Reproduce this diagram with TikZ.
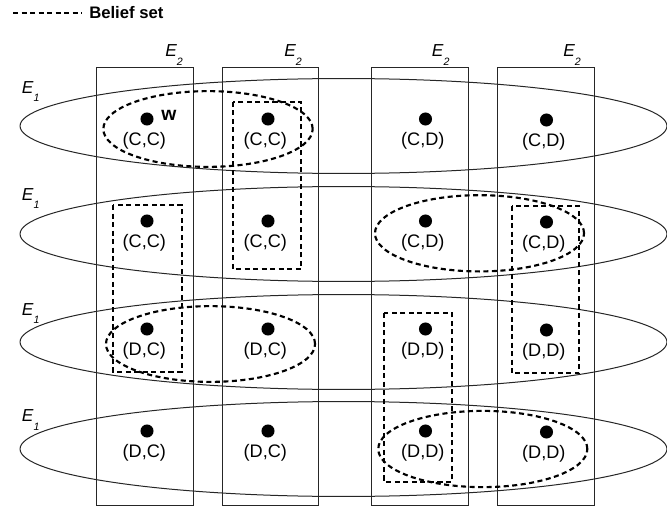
\documentclass[tikz,border=0pt]{standalone}
\usepackage{fontspec}
\setmainfont{Liberation Sans}
\usepackage{tikz}
\usetikzlibrary{positioning}
\tikzstyle{event} = [draw=black!85, line width=0.75pt]
\tikzstyle{belief} = [draw=black, line width=1.6pt, dash pattern=on 3.8pt off 2.6pt]
\tikzstyle{state} = [circle, fill=black, inner sep=0pt, minimum size=9.8pt]
\tikzstyle{outcome} = [font=\fontsize{13.6}{16}\selectfont, inner sep=0pt]
\tikzstyle{evlabel} = [font=\fontsize{13}{15}\selectfont\itshape, inner sep=0pt, anchor=base west]
\newcommand{\evsub}[1]{\raisebox{-0.5em}{\fontsize{8}{9}\selectfont #1}}

\begin{document}
\begin{tikzpicture}[x=0.75pt, y=-0.75pt, node distance=16.5pt]
\useasboundingbox (0,0) rectangle (667,506);

% Legend
\coordinate (legstart) at (13,13);
\node (legend) [anchor=west, inner sep=0pt, font=\bfseries\fontsize{12.5}{15}\selectfont] at (89,13) {Belief set};
\draw[belief] (legstart) -- ([xshift=-5pt]legend.west);

% E2 partition
\draw[event] (96.7,67.5) rectangle (193.3,505);
\draw[event] (222.3,67.5) rectangle (318.7,505);
\draw[event] (371.7,67.5) rectangle (468.3,505);
\draw[event] (497.7,67.5) rectangle (594,505);
\node (etwo1) [evlabel] at (165,56.5) {E\evsub{2}};
\node (etwo2) [evlabel] at (284,56.5) {E\evsub{2}};
\node (etwo3) [evlabel] at (431.7,56.5) {E\evsub{2}};
\node (etwo4) [evlabel] at (563,56.5) {E\evsub{2}};

% E1 partition
\draw[event] (343.5,126) ellipse [x radius=242.6pt, y radius=35.6pt];
\draw[event] (343.5,234) ellipse [x radius=242.6pt, y radius=35.6pt];
\draw[event] (343.5,342) ellipse [x radius=242.6pt, y radius=35.6pt];
\draw[event] (343.5,449) ellipse [x radius=242.6pt, y radius=35.6pt];
\node (eone1) [evlabel] at (21.7,93.3) {E\evsub{1}};
\node (eone2) [evlabel] at (21.7,200) {E\evsub{1}};
\node (eone3) [evlabel] at (21.7,315) {E\evsub{1}};
\node (eone4) [evlabel] at (21.7,421.7) {E\evsub{1}};

% States
\node (d11) [state] at (147,119) {};
\node (d12) [state] at (268,119) {};
\node (d13) [state] at (425.5,119) {};
\node (d14) [state] at (546.5,120) {};
\node (d21) [state] at (147,221) {};
\node (d22) [state] at (268,221) {};
\node (d23) [state] at (425.5,221) {};
\node (d24) [state] at (546.5,222) {};
\node (d31) [state] at (147,329) {};
\node (d32) [state] at (268,329) {};
\node (d33) [state] at (425.5,329) {};
\node (d34) [state] at (546.5,330) {};
\node (d41) [state] at (147,431) {};
\node (d42) [state] at (268,431) {};
\node (d43) [state] at (425.5,431) {};
\node (d44) [state] at (546.5,432) {};

\node (w) [right=5.5pt of d11, yshift=3pt, inner sep=0pt, font=\bfseries\fontsize{14.5}{16}\selectfont] {w};

% Outcomes
\node (l11) [outcome, below of=d11, xshift=-2pt] {(C,C)};
\node (l12) [outcome, below of=d12, xshift=-2pt] {(C,C)};
\node (l13) [outcome, below of=d13, xshift=-2pt] {(C,D)};
\node (l14) [outcome, below of=d14, xshift=-2pt] {(C,D)};
\node (l21) [outcome, below of=d21, xshift=-2pt] {(C,C)};
\node (l22) [outcome, below of=d22, xshift=-2pt] {(C,C)};
\node (l23) [outcome, below of=d23, xshift=-2pt] {(C,D)};
\node (l24) [outcome, below of=d24, xshift=-2pt] {(C,D)};
\node (l31) [outcome, below of=d31, xshift=-2pt] {(D,C)};
\node (l32) [outcome, below of=d32, xshift=-2pt] {(D,C)};
\node (l33) [outcome, below of=d33, xshift=-2pt] {(D,D)};
\node (l34) [outcome, below of=d34, xshift=-2pt] {(D,D)};
\node (l41) [outcome, below of=d41, xshift=-2pt] {(D,C)};
\node (l42) [outcome, below of=d42, xshift=-2pt] {(D,C)};
\node (l43) [outcome, below of=d43, xshift=-2pt] {(D,D)};
\node (l44) [outcome, below of=d44, xshift=-2pt] {(D,D)};

% Belief sets
\draw[belief] (208,129) ellipse [x radius=78.5pt, y radius=28.4pt];
\draw[belief] (210.5,344) ellipse [x radius=78.4pt, y radius=28.4pt];
\draw[belief] (479.5,233.3) ellipse [x radius=78.4pt, y radius=28.6pt];
\draw[belief] (482.8,449) ellipse [x radius=78.4pt, y radius=28.6pt];
\draw[belief] (233,101.7) rectangle (301,269.3);
\draw[belief] (113.3,205) rectangle (181.7,371.7);
\draw[belief] (511.7,206) rectangle (579.3,373.3);
\draw[belief] (384,313.3) rectangle (452.3,481.7);
\end{tikzpicture}
\end{document}
